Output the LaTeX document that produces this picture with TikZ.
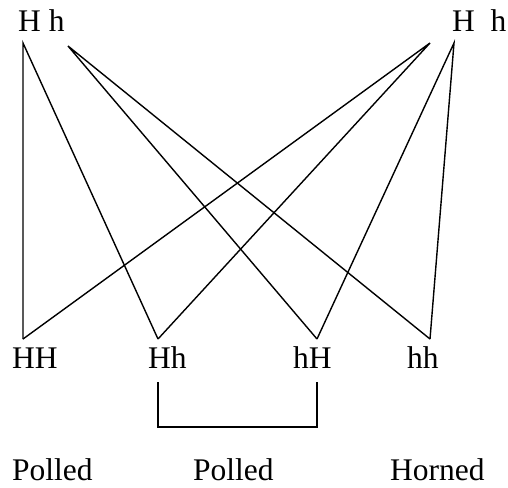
\documentclass[tikz,border=0pt]{standalone}
\usepackage{fontspec}
\setmainfont{Liberation Serif}
\begin{document}
\begin{tikzpicture}[x=1pt,y=-1pt,
  lbl/.style={anchor=base west,inner sep=0pt,font=\fontsize{31.5}{36}\selectfont},
  link/.style={line width=1.4pt,line join=miter}]
\useasboundingbox (0,0) rectangle (508,487);
% top labels
\node[lbl] (tl) at (18,32) {H h};
\node[lbl] (tr) at (452,32) {H\ \ h};
% parent allele points
\coordinate (pH1) at (23,43);
\coordinate (ph1) at (68,46);
\coordinate (pH2) at (430,43);
\coordinate (ph2) at (454,43);
% offspring points
\coordinate (cHH) at (23,339);
\coordinate (cHh) at (158,339);
\coordinate (chH) at (317,339);
\coordinate (chh) at (430,339);
% offspring labels
\node[lbl] (HH) at (12,368) {HH};
\node[lbl] (Hh) at (148,368) {Hh};
\node[lbl] (hH) at (293,368) {hH};
\node[lbl] (hh) at (407,368) {hh};
% connectors
\draw[link] (cHH) -- (pH1) -- (cHh);
\draw[link] (chH) -- (ph1) -- (chh);
\draw[link] (cHH) -- (pH2) -- (cHh);
\draw[link] (chH) -- (ph2) -- (chh);
% bracket
\coordinate (b1) at (158,382);
\coordinate (b2) at (317,382);
\draw[link] (b1) -- (158,427) -| (b2);
% phenotypes
\node[lbl,text depth=0pt] (p1) at (12,480) {Polled};
\node[lbl,text depth=0pt] (p2) at (193,480) {Polled};
\node[lbl,text depth=0pt] (p3) at (390,480) {Horned};
\end{tikzpicture}
\end{document}
